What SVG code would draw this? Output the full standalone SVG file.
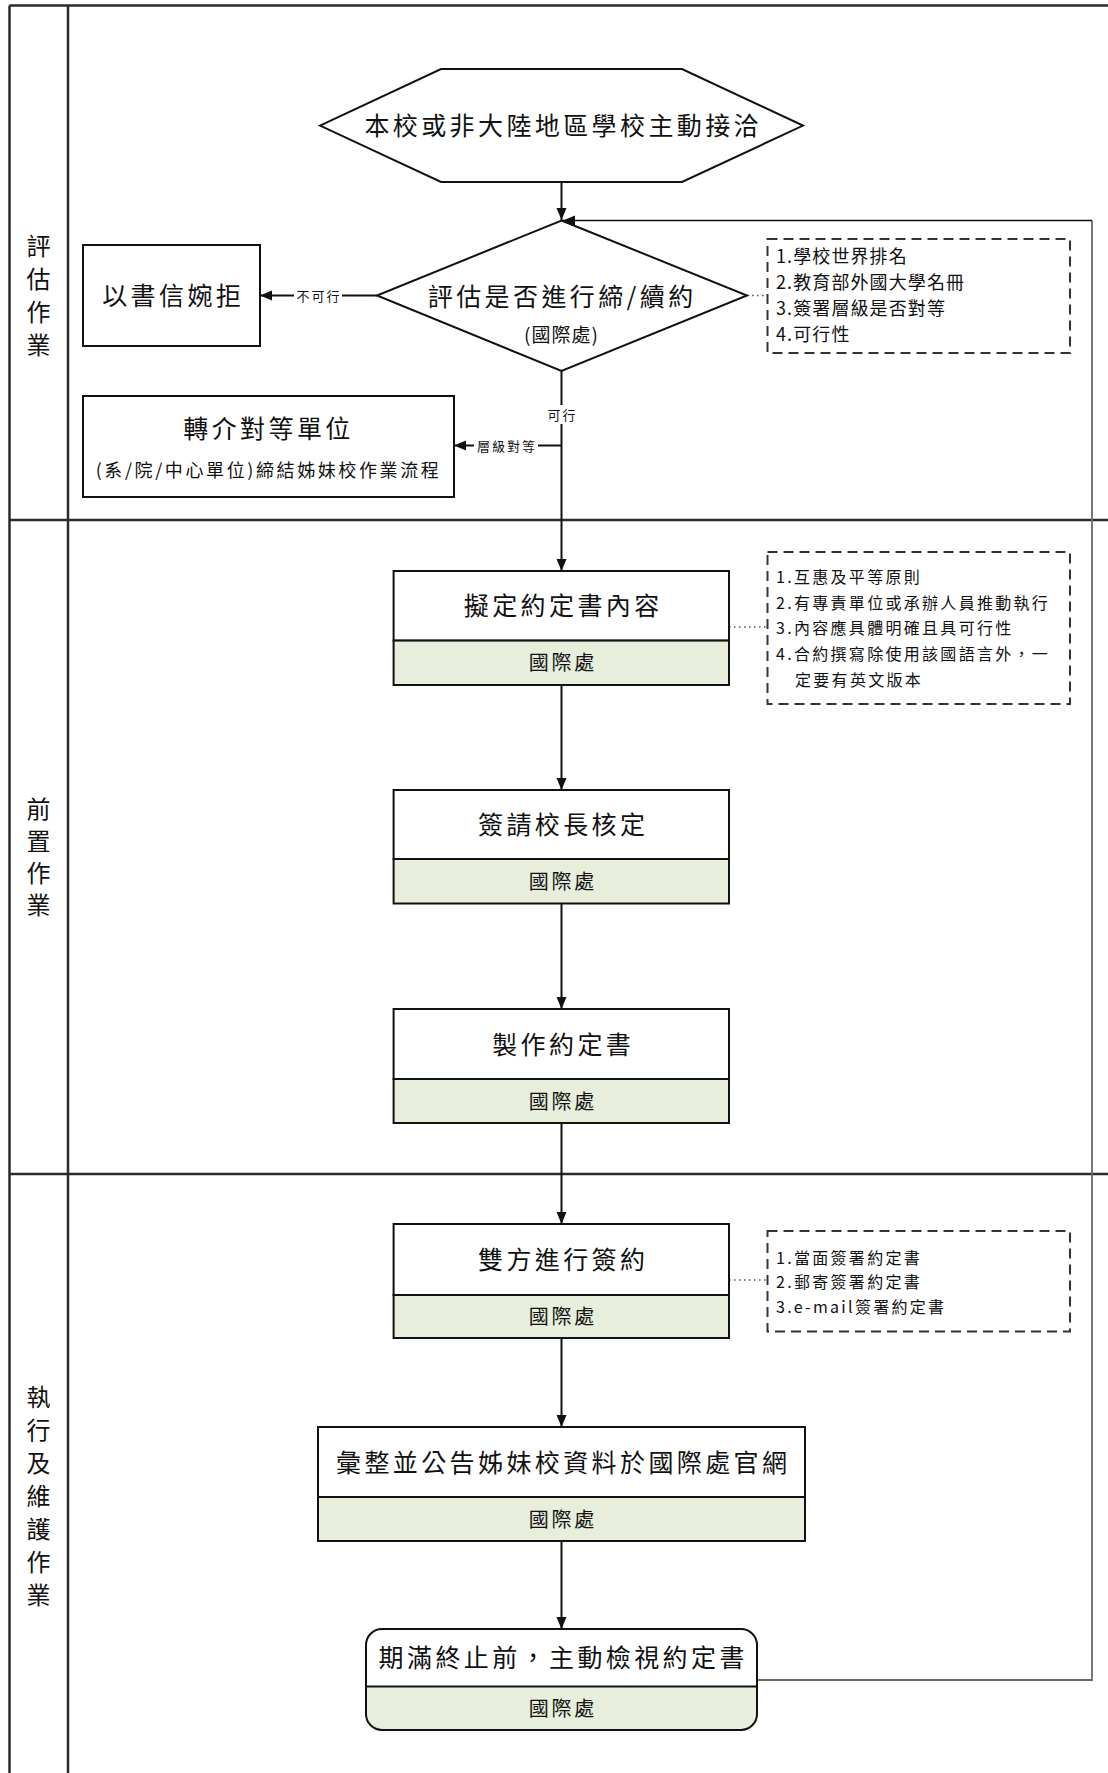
<svg xmlns="http://www.w3.org/2000/svg" width="1108" height="1773" viewBox="0 0 1108 1773">
<defs>
<marker id="arr" markerUnits="userSpaceOnUse" markerWidth="12" markerHeight="12" viewBox="0 0 12 10" refX="12" refY="5" orient="auto">
<path d="M0,0 L12,5 L0,10 Z" fill="#111"/>
</marker>
</defs>
<style>
text{font-family:"Noto Sans CJK TC","Noto Sans CJK SC",sans-serif;fill:#111}
.lane{stroke:#2b2b2b;stroke-width:2.5;fill:none}
.box{fill:#fff;stroke:#111;stroke-width:2}
.band{fill:#e8eedc;stroke:#111;stroke-width:2}
.big{font-size:25px;letter-spacing:3.4px;text-anchor:middle}
.org{font-size:20px;letter-spacing:2.7px;text-anchor:middle}
.ln{font-size:24px;text-anchor:middle}
.sm{font-size:13px;letter-spacing:2px;text-anchor:middle}
.note{fill:none;stroke:#333;stroke-width:2;stroke-dasharray:10 6}
.n18{font-size:18px;letter-spacing:1.1px}
.n16{font-size:16px;letter-spacing:2.3px}
.c{stroke:#111;stroke-width:2;fill:none}
.dot{stroke:#555;stroke-width:1.3;stroke-dasharray:1.5 3.5;fill:none}
.loop{stroke:#6a6a6a;stroke-width:1.8;fill:none}
</style>
<rect width="1108" height="1773" fill="#fff"/>
<g id="lanes">
<line class="lane" x1="9.5" y1="5.5" x2="1108" y2="5.5"/>
<line class="lane" x1="9.5" y1="5.5" x2="9.5" y2="1773"/>
<line class="lane" x1="68" y1="5.5" x2="68" y2="1773"/>
<line class="lane" x1="9.5" y1="520" x2="1108" y2="520"/>
<line class="lane" x1="9.5" y1="1174" x2="1108" y2="1174"/>
<g id="lane1"><text class="ln" x="38.6" y="255">評</text><text class="ln" x="38.6" y="288">估</text><text class="ln" x="38.6" y="321">作</text><text class="ln" x="38.6" y="354">業</text></g>
<g id="lane2"><text class="ln" x="38.6" y="818">前</text><text class="ln" x="38.6" y="850">置</text><text class="ln" x="38.6" y="882">作</text><text class="ln" x="38.6" y="914">業</text></g>
<g id="lane3"><text class="ln" x="38.6" y="1406">執</text><text class="ln" x="38.6" y="1439">行</text><text class="ln" x="38.6" y="1472">及</text><text class="ln" x="38.6" y="1505">維</text><text class="ln" x="38.6" y="1538">護</text><text class="ln" x="38.6" y="1571">作</text><text class="ln" x="38.6" y="1604">業</text></g>
</g>
<g id="connectors">
<line class="c" x1="561.5" y1="182" x2="561.5" y2="220" marker-end="url(#arr)"/>
<path class="loop" d="M757,1680 H1092 V220.5"/>
<line x1="1092" y1="220.5" x2="563" y2="220.5" stroke="#111" stroke-width="1.6" marker-end="url(#arr)"/>
<line class="c" x1="377" y1="295.5" x2="260" y2="295.5" marker-end="url(#arr)"/>
<rect x="294" y="286" width="48" height="19" fill="#fff"/>
<text class="sm" x="319" y="300.5">不可行</text>
<line class="c" x1="561.5" y1="371" x2="561.5" y2="571" marker-end="url(#arr)"/>
<rect x="546" y="405" width="31" height="19" fill="#fff"/>
<text class="sm" x="562.5" y="419.5">可行</text>
<line class="c" x1="561.5" y1="445.5" x2="454" y2="445.5" marker-end="url(#arr)"/>
<rect x="474" y="436" width="64" height="19" fill="#fff"/>
<text class="sm" x="507" y="450.5">層級對等</text>
<line class="dot" x1="747" y1="295.5" x2="767.5" y2="295.5"/>
<line class="c" x1="561.5" y1="685" x2="561.5" y2="790" marker-end="url(#arr)"/>
<line class="dot" x1="729" y1="627" x2="767.5" y2="627"/>
<line class="c" x1="561.5" y1="903.5" x2="561.5" y2="1009" marker-end="url(#arr)"/>
<line class="c" x1="561.5" y1="1123" x2="561.5" y2="1224" marker-end="url(#arr)"/>
<line class="dot" x1="729" y1="1280" x2="767.5" y2="1280"/>
<line class="c" x1="561.5" y1="1338" x2="561.5" y2="1427" marker-end="url(#arr)"/>
<line class="c" x1="561.5" y1="1541" x2="561.5" y2="1629" marker-end="url(#arr)"/>
</g>
<g id="start">
<polygon points="320,125.6 441,69 682,69 803,125.6 682,182 441,182" fill="#fff" stroke="#111" stroke-width="2"/>
<text class="big" x="563.2" y="135">本校或非大陸地區學校主動接洽</text>
</g>
<g id="decision">
<polygon points="561.5,220.5 747,295.5 561.5,371 377,295.5" fill="#fff" stroke="#111" stroke-width="2"/>
<text class="big" x="562.2" y="305.5">評估是否進行締/續約</text>
<text x="561.5" y="342" font-size="19" letter-spacing="1" text-anchor="middle">(國際處)</text>
</g>
<g id="reject">
<rect class="box" x="83" y="245" width="177" height="101"/>
<text class="big" x="173.2" y="304.5">以書信婉拒</text>
</g>
<g id="refer">
<rect class="box" x="83" y="396" width="371" height="101"/>
<text class="big" x="268.5" y="437.5">轉介對等單位</text>
<text x="268.5" y="477" font-size="18" letter-spacing="2.6" text-anchor="middle">(系/院/中心單位)締結姊妹校作業流程</text>
</g>
<g id="note1">
<rect class="note" x="767.5" y="239" width="302.5" height="114"/>
<text class="n18" x="776" y="262.5">1.學校世界排名</text>
<text class="n18" x="776" y="288.5">2.教育部外國大學名冊</text>
<text class="n18" x="776" y="314.5">3.簽署層級是否對等</text>
<text class="n18" x="776" y="340.5">4.可行性</text>
</g>
<g id="draft">
<rect class="box" x="393.6" y="571" width="335.4" height="69.6"/>
<rect class="band" x="393.6" y="640.6" width="335.4" height="44.4"/>
<text class="big" x="563.2" y="615.3">擬定約定書內容</text>
<text class="org" x="562.8" y="670.4">國際處</text>
</g>
<g id="note2">
<rect class="note" x="767.5" y="552" width="302.5" height="152"/>
<text class="n16" x="776" y="583">1.互惠及平等原則</text>
<text class="n16" x="776" y="609">2.有專責單位或承辦人員推動執行</text>
<text class="n16" x="776" y="634">3.內容應具體明確且具可行性</text>
<text class="n16" x="776" y="660">4.合約撰寫除使用該國語言外，一</text>
<text class="n16" x="795" y="686">定要有英文版本</text>
</g>
<g id="approve">
<rect class="box" x="393.6" y="790" width="335.4" height="69"/>
<rect class="band" x="393.6" y="859" width="335.4" height="44.5"/>
<text class="big" x="563.2" y="834">簽請校長核定</text>
<text class="org" x="562.8" y="888.8">國際處</text>
</g>
<g id="make">
<rect class="box" x="393.6" y="1009" width="335.4" height="70"/>
<rect class="band" x="393.6" y="1079" width="335.4" height="44"/>
<text class="big" x="563.2" y="1053.5">製作約定書</text>
<text class="org" x="562.8" y="1108.6">國際處</text>
</g>
<g id="sign">
<rect class="box" x="393.6" y="1224" width="335.4" height="71"/>
<rect class="band" x="393.6" y="1295" width="335.4" height="43"/>
<text class="big" x="563.2" y="1269">雙方進行簽約</text>
<text class="org" x="562.8" y="1324">國際處</text>
</g>
<g id="note3">
<rect class="note" x="767.5" y="1231" width="302.5" height="100.5"/>
<text class="n16" x="776" y="1264">1.當面簽署約定書</text>
<text class="n16" x="776" y="1288">2.郵寄簽署約定書</text>
<text class="n16" x="776" y="1313">3.e-mail簽署約定書</text>
</g>
<g id="publish">
<rect class="box" x="318" y="1427" width="487" height="70"/>
<rect class="band" x="318" y="1497" width="487" height="44"/>
<text class="big" x="563.2" y="1471.5">彙整並公告姊妹校資料於國際處官網</text>
<text class="org" x="562.8" y="1526.6">國際處</text>
</g>
<g id="review">
<path d="M366,1686.5 V1645 A16,16 0 0 1 382,1629 H741 A16,16 0 0 1 757,1645 V1686.5 Z" fill="#fff"/>
<path d="M366,1686.5 H757 V1714 A16,16 0 0 1 741,1730 H382 A16,16 0 0 1 366,1714 Z" fill="#e8eedc"/>
<rect x="366" y="1629" width="391" height="101" rx="16" ry="16" fill="none" stroke="#111" stroke-width="2"/>
<line x1="366" y1="1686.5" x2="757" y2="1686.5" stroke="#111" stroke-width="2"/>
<text class="big" x="563.2" y="1667">期滿終止前，主動檢視約定書</text>
<text class="org" x="562.8" y="1715.8">國際處</text>
</g>
</svg>
